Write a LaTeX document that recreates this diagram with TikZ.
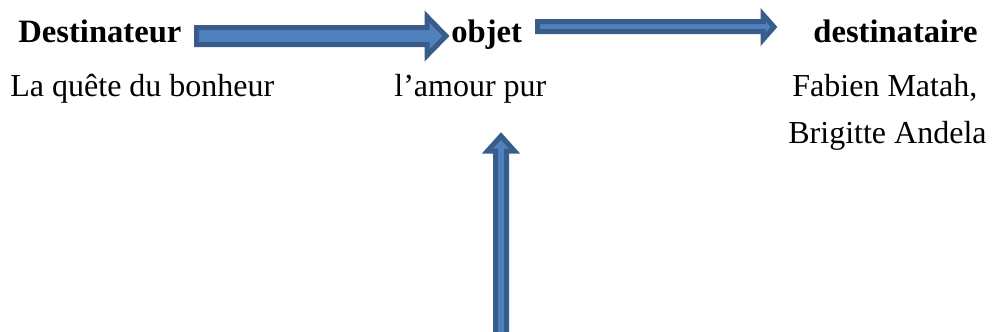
\documentclass[tikz,border=0pt]{standalone}
\usepackage{fontspec}
\setmainfont{Liberation Serif}
\definecolor{arrowfill}{HTML}{4F81BD}
\definecolor{arrowedge}{HTML}{385D8A}
\begin{document}
\begin{tikzpicture}[x=0.5pt,y=-0.5pt,
  lbl/.style={anchor=base west,inner sep=0pt,font=\fontsize{16}{19}\selectfont},
  head/.style={lbl,font=\fontsize{16.3}{19}\selectfont\bfseries},
  blockarrow/.style={fill=arrowfill,draw=arrowedge,line width=2.5pt,line join=miter}]
\useasboundingbox (0,0) rectangle (992,332);
\node[head] (dest) at (18,42) {Destinateur};
\node[lbl] (quete) at (10,96) {La quête du bonheur};
\node[head] (objet) at (451,42) {objet};
\node[lbl] (amour) at (394,96) {l’amour pur};
\node[head] (destin) at (813,42) {destinataire};
\node[lbl] (fabien) at (792,96) {Fabien Matah,};
\node[lbl] (brigitte) at (788,143) {Brigitte Andela};
% block arrows
\draw[blockarrow] (196.5,27.5) -- (427,27.5) -- (427,16.5) -- (446,36) -- (427,55.5) -- (427,44.5) -- (196.5,44.5) -- cycle;
\draw[blockarrow] (537.5,21.5) -- (763,21.5) -- (763,14.5) -- (774,27) -- (763,39.5) -- (763,31.5) -- (537.5,31.5) -- cycle;
\draw[blockarrow] (495.5,340) -- (495.5,151) -- (487.5,151) -- (501,136) -- (514.5,151) -- (506.5,151) -- (506.5,340) -- cycle;
\end{tikzpicture}
\end{document}
